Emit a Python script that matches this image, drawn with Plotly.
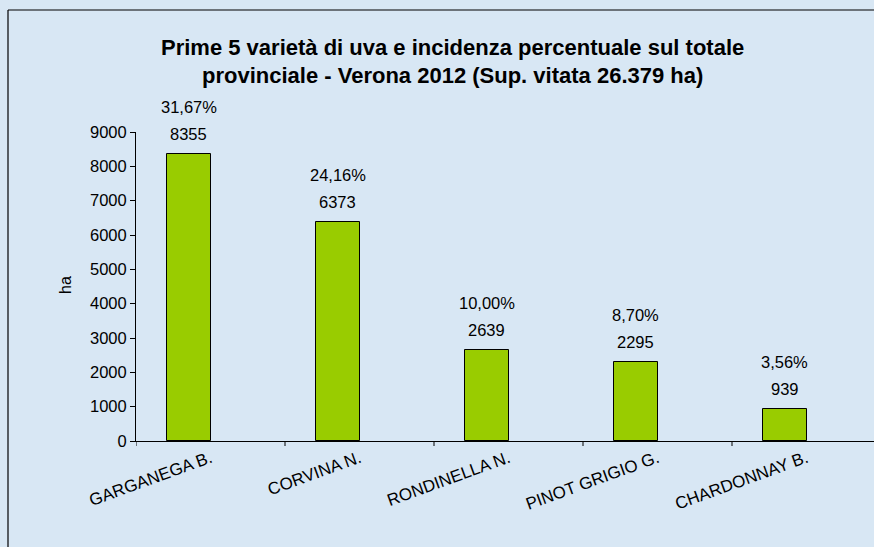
import plotly.graph_objects as go

categories = ["GARGANEGA B.", "CORVINA N.", "RONDINELLA N.", "PINOT GRIGIO G.", "CHARDONNAY B."]
values = [8355, 6373, 2639, 2295, 939]
percent_labels = ["31,67%", "24,16%", "10,00%", "8,70%", "3,56%"]
y_ticks = [0, 1000, 2000, 3000, 4000, 5000, 6000, 7000, 8000, 9000]

title_line1 = "Prime 5 varietà di uva e incidenza percentuale sul totale"
title_line2 = "provinciale - Verona 2012 (Sup. vitata 26.379 ha)"

FONT = "Liberation Sans, Arial, sans-serif"
BAR_W = 0.29
BAR_OFF = -0.29

W, H = 874, 547
L, T, B = 136, 132, 106
plot_w = W - L
plot_h = H - T - B


def py(pixel_y):
    return (H - B - pixel_y) / plot_h


def px(pixel_x):
    return (pixel_x - L) / plot_w


fig = go.Figure()
x_idx = list(range(len(categories)))
fig.add_trace(go.Bar(
    x=x_idx, y=values, width=BAR_W, offset=BAR_OFF,
    marker=dict(color="#99cc00", line=dict(color="black", width=1)),
    hoverinfo="skip", showlegend=False,
))

ann = []
for i, (v, p) in enumerate(zip(values, percent_labels)):
    cx = i + BAR_OFF + BAR_W / 2
    ann.append(dict(x=cx, y=v, xref="x", yref="y", text=str(v), showarrow=False,
                    yshift=20, font=dict(family=FONT, size=16.5, color="black")))
    ann.append(dict(x=cx, y=v, xref="x", yref="y", text=p, showarrow=False,
                    yshift=47, font=dict(family=FONT, size=16.5, color="black")))

ann.append(dict(x=px(452), y=py(47), xref="paper", yref="paper", text="<b>" + title_line1 + "</b>",
                showarrow=False, xanchor="center", yanchor="middle",
                font=dict(family=FONT, size=22, color="black")))
ann.append(dict(x=px(452), y=py(75), xref="paper", yref="paper", text="<b>" + title_line2 + "</b>",
                showarrow=False, xanchor="center", yanchor="middle",
                font=dict(family=FONT, size=22, color="black")))
ann.append(dict(x=px(65), y=py(285), xref="paper", yref="paper", text="ha",
                showarrow=False, textangle=-90, xanchor="center", yanchor="middle",
                font=dict(family=FONT, size=16, color="black")))

border = dict(color="black", width=1.2)
fig.update_layout(
    width=W, height=H,
    margin=dict(l=L, r=0, t=T, b=B, pad=0, autoexpand=False),
    paper_bgcolor="#d8e7f4", plot_bgcolor="rgba(0,0,0,0)",
    annotations=ann,
    shapes=[
        dict(type="line", xref="paper", yref="paper", x0=px(8), x1=px(W + 20),
             y0=py(10), y1=py(10), line=border),
        dict(type="line", xref="paper", yref="paper", x0=px(8), x1=px(8),
             y0=py(10), y1=py(H + 20), line=border),
    ],
    bargap=0,
)
fig.update_xaxes(
    range=[-0.5, -0.5 + plot_w / 149.0], automargin=False,
    tickmode="array", tickvals=x_idx, ticktext=categories,
    tickangle=-20, ticks="", showline=True, linecolor="black", linewidth=1,
    showgrid=False, zeroline=False,
    tickfont=dict(family=FONT, size=17, color="black"),
)
for i in range(len(categories)):
    fig.add_shape(type="line", xref="x", yref="paper", x0=i - 0.5, x1=i - 0.5,
                  y0=0, y1=-5 / plot_h, line=dict(color="black", width=1))
fig.update_yaxes(
    range=[0, 9000], tickmode="array", tickvals=y_ticks, automargin=False,
    ticks="outside", ticklen=5, tickcolor="black",
    showline=True, linecolor="black", linewidth=1, showgrid=False, zeroline=False,
    tickfont=dict(family=FONT, size=16.5, color="black"),
)
fig.write_html("out.html", config={"displayModeBar": False},
               post_script="document.documentElement.style.overflow='hidden';document.body.style.margin='0';document.body.style.overflow='hidden';document.body.style.background='#d8e7f4';")
